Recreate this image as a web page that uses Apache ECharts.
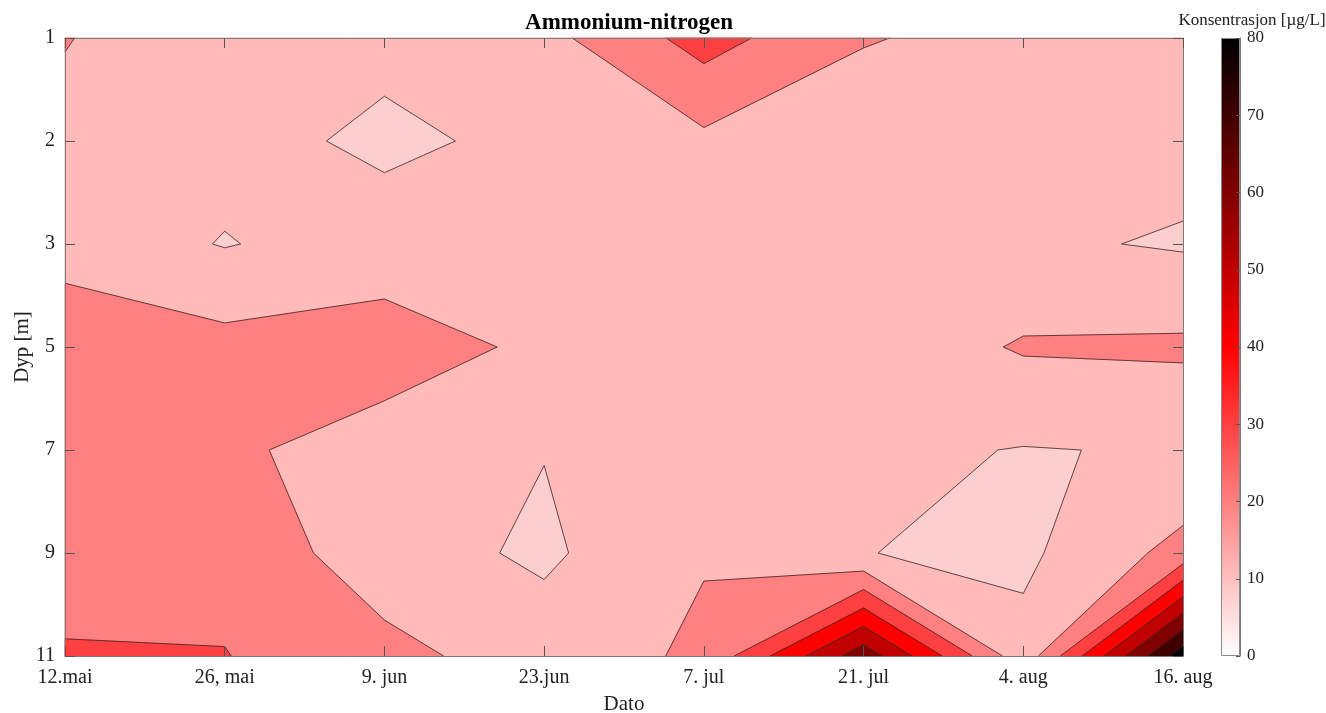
<!DOCTYPE html>
<html>
<head>
<meta charset="utf-8">
<script src="https://cdn.jsdelivr.net/npm/echarts@6/dist/echarts.min.js"></script>
<style>html,body{margin:0;padding:0;background:#fff;}#c{width:1326px;height:713px;}</style>
</head>
<body>
<div id="c"></div>
<script>
// Categories / tick labels
const dates = ['12.mai', '26, mai', '9. jun', '23.jun', '7. jul', '21. jul', '4. aug', '16. aug'];
const depths = [1, 2, 3, 5, 7, 9, 11];
const levels = [0, 10, 20, 30, 40, 50, 60, 70, 80];
const colorbarTicks = [0, 10, 20, 30, 40, 50, 60, 70, 80];

// Concentration [µg/L] per depth, one value per date
const dyp1  = [20.5, 12.2, 12.6, 17.0, 34.0, 20.6, 16.9, 15.0];
const dyp2  = [16.8, 13.5,  8.0, 12.5, 17.9, 14.4, 14.0, 13.5];
const dyp3  = [16.0,  9.5, 14.5, 15.0, 16.0, 15.0, 11.6,  9.0];
const dyp5  = [26.5, 23.2, 24.8, 18.0, 17.0, 13.0, 21.0, 21.7];
const dyp7  = [25.0, 21.7, 15.6, 10.3, 15.0, 12.1,  9.6, 10.7];
const dyp9  = [25.0, 27.0, 14.4,  8.3, 19.4, 10.2,  8.0, 23.4];
const dyp11 = [31.0, 30.3, 23.0, 14.9, 21.6, 66.0, 13.1, 86.0];

const grid = [dyp1, dyp2, dyp3, dyp5, dyp7, dyp9, dyp11];

const bandColors = ['#FCCFCF', '#FFBABA', '#FF8080', '#FF4040', '#FF0000', '#C00000', '#800000', '#400000', '#000000'];
const serif = 'Liberation Serif, Times New Roman, serif';

// ---- filled contours (marching squares, linear interpolation) in data space ----
function interp(a, b, va, vb, L) {
  const t = (L - va) / (vb - va);
  return [a[0] + t * (b[0] - a[0]), a[1] + t * (b[1] - a[1])];
}
const polys = [];
const segs = [];
const nR = grid.length, nC = dates.length;
levels.forEach((L, k) => {
  for (let r = 0; r < nR - 1; r++) {
    for (let c = 0; c < nC - 1; c++) {
      const cs = [[c, r], [c + 1, r], [c + 1, r + 1], [c, r + 1]];
      const vs = [grid[r][c], grid[r][c + 1], grid[r + 1][c + 1], grid[r + 1][c]];
      const ab = vs.map(v => v >= L);
      const cnt = ab.filter(Boolean).length;
      if (cnt === 0) continue;
      if (cnt === 4) { polys.push({k, pts: cs}); continue; }
      const center = (vs[0] + vs[1] + vs[2] + vs[3]) / 4;
      const saddle = cnt === 2 && ab[0] === ab[2];
      if (saddle && center < L) {
        for (let i = 0; i < 4; i++) {
          if (!ab[i]) continue;
          const p = (i + 3) % 4, n = (i + 1) % 4;
          const p1 = interp(cs[p], cs[i], vs[p], vs[i], L);
          const p2 = interp(cs[i], cs[n], vs[i], vs[n], L);
          polys.push({k, pts: [p1, cs[i], p2]});
          segs.push([p1[0], p1[1], p2[0], p2[1]]);
        }
      } else {
        const pts = [], fl = [];
        for (let i = 0; i < 4; i++) {
          const j = (i + 1) % 4;
          if (ab[i]) { pts.push(cs[i]); fl.push(false); }
          if (ab[i] !== ab[j]) { pts.push(interp(cs[i], cs[j], vs[i], vs[j], L)); fl.push(true); }
        }
        polys.push({k, pts});
        for (let m = 0; m < pts.length; m++) {
          const n = (m + 1) % pts.length;
          if (fl[m] && fl[n]) segs.push([pts[m][0], pts[m][1], pts[n][0], pts[n][1]]);
        }
      }
    }
  }
});

const chart = echarts.init(document.getElementById('c'), null, {renderer: 'canvas'});

function aLine() { return {show: true, onZero: false, lineStyle: {color: '#7a7a7a', width: 1}}; }
function aTick(len) { return {show: true, inside: true, length: len, lineStyle: {color: '#555', width: 1}}; }

chart.setOption({
  backgroundColor: '#ffffff',
  animation: false,
  title: [
    {text: 'Ammonium-nitrogen', left: 624, top: 7, textAlign: 'center',
     textStyle: {fontFamily: serif, fontWeight: 'bold', fontSize: 23, color: '#000'}},
    {text: 'Konsentrasjon [µg/L]', left: 1247, top: 7, textAlign: 'center',
     textStyle: {fontFamily: serif, fontWeight: 'normal', fontSize: 17, color: '#222'}}
  ],
  grid: [
    {left: 65, top: 38, width: 1118, height: 618, containLabel: false, outerBoundsMode: 'none'},
    {left: 1221, top: 38, width: 19, height: 618, containLabel: false, outerBoundsMode: 'none'}
  ],
  xAxis: [
    {type: 'value', gridIndex: 0, min: 0, max: dates.length - 1, interval: 1, position: 'bottom', z: 10,
     axisLine: aLine(), axisTick: aTick(10), splitLine: {show: false},
     axisLabel: {formatter: v => dates[v], fontFamily: serif, fontSize: 20, color: '#222', margin: 12,
                 showMinLabel: true, showMaxLabel: true, hideOverlap: false},
     name: 'Dato', nameLocation: 'middle', nameGap: 38,
     nameTextStyle: {fontFamily: serif, fontSize: 21, color: '#222'}},
    {type: 'value', gridIndex: 0, min: 0, max: dates.length - 1, interval: 1, position: 'top', z: 10,
     axisLine: aLine(), axisTick: aTick(10), splitLine: {show: false}, axisLabel: {show: false}},
    {type: 'category', gridIndex: 1, data: ['cb'], show: false}
  ],
  yAxis: [
    {type: 'value', gridIndex: 0, inverse: true, min: 0, max: depths.length - 1, interval: 1, position: 'left', z: 10,
     axisLine: aLine(), axisTick: aTick(10), splitLine: {show: false},
     axisLabel: {formatter: v => depths[v], fontFamily: serif, fontSize: 20, color: '#222', margin: 10,
                 showMinLabel: true, showMaxLabel: true},
     name: 'Dyp [m]', nameLocation: 'middle', nameGap: 32, nameRotate: 90, nameMoveOverlap: false,
     nameTextStyle: {fontFamily: serif, fontSize: 21, color: '#222'}},
    {type: 'value', gridIndex: 0, inverse: true, min: 0, max: depths.length - 1, interval: 1, position: 'right', z: 10,
     axisLine: aLine(), axisTick: aTick(10), splitLine: {show: false}, axisLabel: {show: false}},
    {type: 'value', gridIndex: 1, min: colorbarTicks[0], max: colorbarTicks[colorbarTicks.length - 1], interval: 10,
     position: 'right', z: 10,
     axisLine: aLine(), axisTick: aTick(4),
     splitLine: {show: false},
     axisLabel: {fontFamily: serif, fontSize: 17, color: '#222', margin: 7}}
  ],
  series: [
    {
      type: 'custom', xAxisIndex: 0, yAxisIndex: 0, silent: true, animation: false,
      data: polys.map((p, i) => [p.pts[0][0], p.pts[0][1], i]),
      encode: {x: 0, y: 1},
      renderItem: (params, api) => {
        const p = polys[api.value(2)];
        return {
          type: 'polygon', z2: p.k,
          shape: {points: p.pts.map(q => api.coord(q))},
          style: {fill: bandColors[p.k], stroke: bandColors[p.k], lineWidth: 0.8}
        };
      }
    },
    {
      type: 'custom', xAxisIndex: 0, yAxisIndex: 0, silent: true, animation: false, z: 3,
      data: segs,
      encode: {x: [0, 2], y: [1, 3]},
      renderItem: (params, api) => {
        const a = api.coord([api.value(0), api.value(1)]);
        const b = api.coord([api.value(2), api.value(3)]);
        return {
          type: 'line',
          shape: {x1: a[0], y1: a[1], x2: b[0], y2: b[1]},
          style: {stroke: '#3a2626', lineWidth: 0.8}
        };
      }
    },
    {
      type: 'bar', xAxisIndex: 2, yAxisIndex: 2, silent: true, barWidth: '100%',
      data: [colorbarTicks[colorbarTicks.length - 1]],
      itemStyle: {
        color: new echarts.graphic.LinearGradient(0, 1, 0, 0, [
          {offset: 0, color: '#ffffff'},
          {offset: 0.5, color: '#ff0000'},
          {offset: 1, color: '#000000'}
        ]),
        borderColor: '#8a8a8a', borderWidth: 1
      }
    }
  ]
});
</script>
</body>
</html>
